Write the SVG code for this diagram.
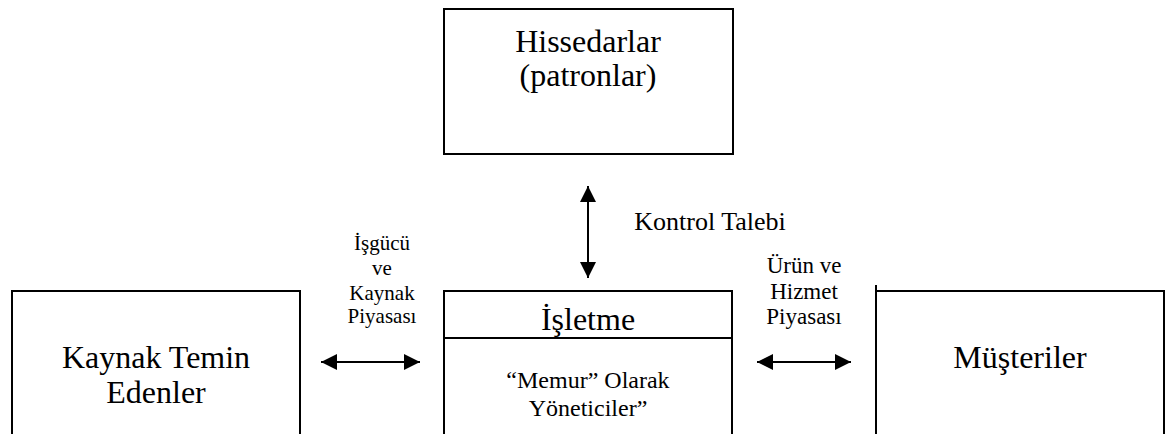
<svg xmlns="http://www.w3.org/2000/svg" width="1166" height="434" viewBox="0 0 1166 434">
<style>
.box{fill:#fff;stroke:#000;stroke-width:2}
.t{font-family:"Liberation Serif","Times New Roman",serif;fill:#000;text-anchor:middle}
.big{font-size:32px}
.mid{font-size:24px}
.lbl{font-size:21px}
.conn{stroke:#000;stroke-width:2;fill:none}
</style>
<defs>
<marker id="ah" viewBox="0 0 10 10" refX="10" refY="5" markerWidth="8" markerHeight="8" markerUnits="strokeWidth" orient="auto-start-reverse">
<path d="M0,0 L10,5 L0,10 Z" fill="#000"/>
</marker>
</defs>
<rect width="1166" height="434" fill="#fff"/>
<g id="hissedarlar">
<rect class="box" x="444" y="9" width="289" height="145"/>
<text class="t big" x="588" y="52">Hissedarlar</text>
<text class="t big" x="588" y="86">(patronlar)</text>
</g>
<g id="kaynak">
<rect class="box" x="12" y="291" width="288" height="150"/>
<text class="t big" x="156" y="368">Kaynak Temin</text>
<text class="t big" x="156" y="403">Edenler</text>
</g>
<g id="isletme">
<rect class="box" x="444" y="291" width="288" height="150"/>
<line class="conn" x1="444" y1="338" x2="732" y2="338"/>
<text class="t big" x="588" y="330">İşletme</text>
<text class="t mid" x="588" y="388">“Memur” Olarak</text>
<text class="t mid" x="588" y="416">Yöneticiler”</text>
</g>
<g id="musteriler">
<rect class="box" x="876" y="291" width="288" height="150"/>
<line class="conn" x1="876" y1="285" x2="876" y2="292"/>
<text class="t big" x="1020" y="368">Müşteriler</text>
</g>
<g id="connectors">
<line class="conn" x1="588" y1="186" x2="588" y2="278" marker-start="url(#ah)" marker-end="url(#ah)"/>
<line class="conn" x1="321" y1="362" x2="420" y2="362" marker-start="url(#ah)" marker-end="url(#ah)"/>
<line class="conn" x1="757" y1="362" x2="851" y2="362" marker-start="url(#ah)" marker-end="url(#ah)"/>
</g>
<g id="labels">
<text class="t" style="font-size:26px" x="710" y="230">Kontrol Talebi</text>
<text class="t lbl" x="382" y="250">İşgücü</text>
<text class="t lbl" x="382" y="275">ve</text>
<text class="t lbl" x="382" y="300">Kaynak</text>
<text class="t lbl" x="382" y="323">Piyasası</text>
<text class="t" style="font-size:23px" x="804" y="273">Ürün ve</text>
<text class="t" style="font-size:23px" x="804" y="299">Hizmet</text>
<text class="t" style="font-size:23px" x="804" y="324">Piyasası</text>
</g>
</svg>
